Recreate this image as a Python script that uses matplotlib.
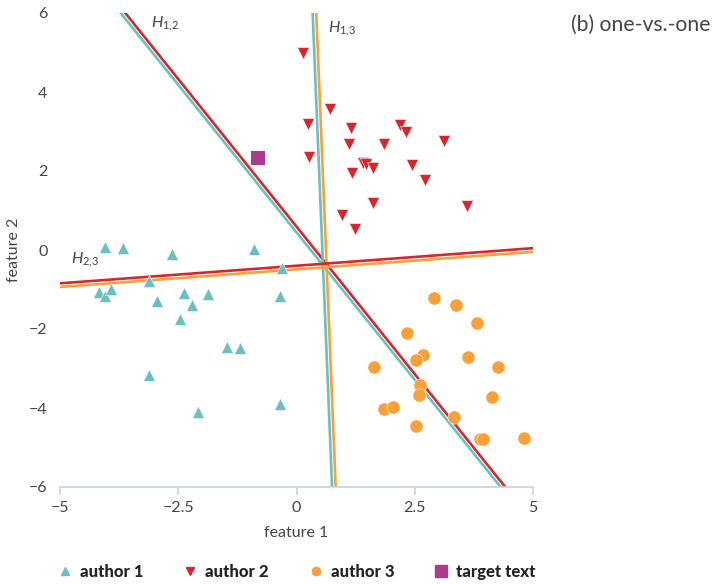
import numpy as np
import matplotlib
matplotlib.use("Agg")
import matplotlib.pyplot as plt
from matplotlib import transforms

plt.rcParams['font.family'] = ['Lato', 'DejaVu Sans']
plt.rcParams['mathtext.fontset'] = 'custom'
plt.rcParams['mathtext.rm'] = 'Lato'
plt.rcParams['mathtext.it'] = 'Lato:italic'

# points
author1_x = [-4.05, -3.67, -2.63, -0.89, -0.31, -3.12, -4.17, -4.04, -3.92, -2.94,
             -2.37, -2.20, -1.87, -2.47, -0.35, -1.47, -1.19, -3.12, -0.35, -2.08]
author1_y = [0.08, 0.06, -0.10, 0.03, -0.45, -0.78, -1.07, -1.17, -0.98, -1.28,
             -1.08, -1.40, -1.12, -1.75, -1.17, -2.45, -2.48, -3.16, -3.90, -4.11]

author2_x = [0.14, 0.71, 0.25, 1.15, 2.19, 2.32, 3.11, 1.12, 1.84, 0.27,
             1.41, 1.47, 1.62, 2.44, 1.17, 2.72, 1.62, 3.61, 0.97, 1.24]
author2_y = [5.00, 3.58, 3.18, 3.10, 3.16, 2.98, 2.77, 2.68, 2.68, 2.36,
             2.21, 2.18, 2.08, 2.15, 1.94, 1.78, 1.20, 1.12, 0.89, 0.53]

author3_x = [2.91, 3.37, 3.81, 2.34, 2.67, 2.52, 1.64, 3.63, 4.26, 2.61,
             2.59, 4.14, 1.84, 2.05, 3.34, 2.53, 3.89, 3.94, 4.81]
author3_y = [-1.22, -1.39, -1.84, -2.11, -2.65, -2.79, -2.95, -2.71, -2.97, -3.42,
             -3.66, -3.72, -4.02, -3.98, -4.24, -4.46, -4.79, -4.79, -4.77]

target_x = [-0.82]
target_y = [2.34]

# hyperplanes a*x + b*y = c
hyperplanes = {
    'H12': (1.494, 1.0, 0.52),
    'H13': (1.0, 0.0342, 0.585),
    'H23': (-0.089, 1.0, -0.445),
}

teal = '#6bbfc1'
red = '#d7262c'
orange = '#f9a03a'
purple = '#b03a8e'
text_col = '#444444'

fig = plt.figure(figsize=(7.19, 5.84), dpi=100)
ax = fig.add_axes([60/719, 97/584, 473/719, 474/584])
ax.set_xlim(-5, 5)
ax.set_ylim(-6, 6)


def draw_double(name, col_a, col_b, gap=1.3):
    a, b, c = hyperplanes[name]
    if abs(b) >= abs(a):
        xs = np.array([-6.0, 6.0])
        ys = (c - a * xs) / b
    else:
        ys = np.array([-7.0, 7.0])
        xs = (c - b * ys) / a
    # perpendicular direction in display space
    p = ax.transData.transform(np.column_stack([xs, ys]))
    d = p[1] - p[0]
    n = np.array([-d[1], d[0]]) / np.hypot(*d)
    if n[0] + n[1] < 0:
        n = -n
    for col, s in ((col_a, 1), (col_b, -1)):
        tr = transforms.offset_copy(ax.transData, fig=fig, x=s * gap * n[0],
                                    y=s * gap * n[1], units='points')
        ax.plot(xs, ys, color=col, lw=1.9, transform=tr, solid_capstyle='butt', zorder=2)


draw_double('H12', red, teal)
draw_double('H13', orange, teal)
draw_double('H23', red, orange)

ax.scatter(author1_x, author1_y, marker='^', s=75, color=teal, edgecolor='white', linewidth=0.4, zorder=3)
ax.scatter(author2_x, author2_y, marker='v', s=75, color=red, edgecolor='white', linewidth=0.4, zorder=3)
ax.scatter(author3_x, author3_y, marker='o', s=90, color=orange, edgecolor='white', linewidth=0.4, zorder=3)
ax.scatter(target_x, target_y, marker='s', s=100, color=purple, linewidth=0, zorder=4)

ax.text(-3.08, 5.65, r'$H_{\mathrm{1{,}2}}$', fontsize=11.5, color=text_col)
ax.text(0.66, 5.52, r'$H_{\mathrm{1{,}3}}$', fontsize=11.5, color=text_col)
ax.text(-4.77, -0.33, r'$H_{\mathrm{2{,}3}}$', fontsize=11.5, color=text_col)

for side in ['top', 'right', 'left']:
    ax.spines[side].set_visible(False)
ax.spines['bottom'].set_color('#c5d0ea')
ax.spines['bottom'].set_linewidth(1.2)
ax.set_xticks([-5, -2.5, 0, 2.5, 5])
ax.set_xticklabels(['\u22125', '\u22122.5', '0', '2.5', '5'])
ax.set_yticks([-6, -4, -2, 0, 2, 4, 6])
ax.set_yticklabels(['\u22126', '\u22124', '\u22122', '0', '2', '4', '6'])
ax.tick_params(axis='x', colors='#c5d0ea', length=6, width=1.2, labelcolor=text_col, labelsize=11.5, pad=4)
ax.tick_params(axis='y', length=0, labelcolor=text_col, labelsize=11.5, pad=9)
ax.set_xlabel('feature 1', color=text_col, fontsize=11.5, labelpad=8)
ax.set_ylabel('feature 2', color=text_col, fontsize=11.5, labelpad=6)

fig.text(571/719, 1 - 25/584, '(b) one-vs.-one', fontsize=15.2, color=text_col, va='center')

handles = [
    plt.Line2D([], [], marker='^', ls='', color=teal, markersize=6),
    plt.Line2D([], [], marker='v', ls='', color=red, markersize=6),
    plt.Line2D([], [], marker='o', ls='', color=orange, markersize=6),
    plt.Line2D([], [], marker='s', ls='', color=purple, markersize=8),
]
labels = ['author 1', 'author 2', 'author 3', 'target text']
leg = fig.legend(handles, labels, loc='center', bbox_to_anchor=(0.412, 1 - 572/584), ncol=4,
                 frameon=False, handletextpad=0.4, columnspacing=2.3, handlelength=1.0,
                 prop={'weight': 'black', 'size': 12})
for t in leg.get_texts():
    t.set_color('#222222')

fig.savefig('out.png', dpi=100)
